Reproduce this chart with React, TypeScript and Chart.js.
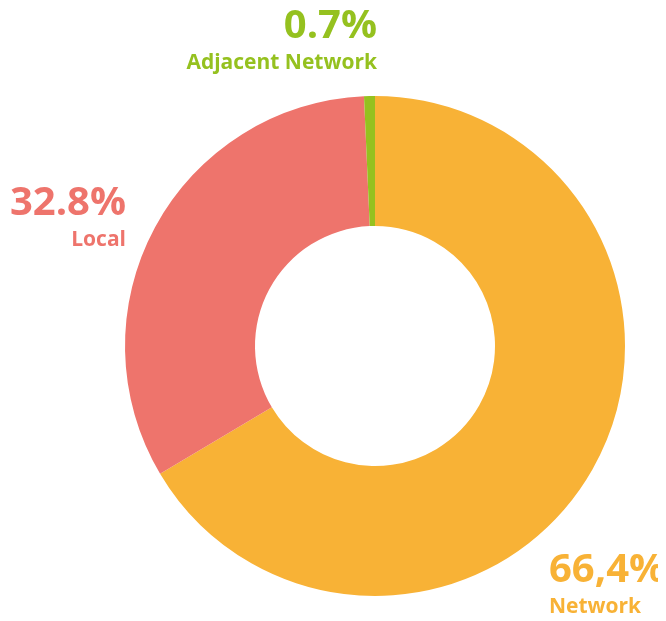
import React, { useEffect, useRef } from "react";
import { Chart, registerables } from "chart.js";

Chart.register(...registerables);

const categories = ["Network", "Local", "Adjacent Network"];
const values = [66.4, 32.8, 0.7];
const valueLabels = ["66,4%", "32.8%", "0.7%"];
const colors = ["#F8B236", "#EE746C", "#95C11F"];

// label anchor positions expressed relative to the doughnut center, in units of its radius
const labelAnchors = [
  { ax: 0.696, ay: 0.942, align: "left" as CanvasTextAlign },
  { ax: -0.996, ay: -0.526, align: "right" as CanvasTextAlign },
  { ax: 0.008, ay: -1.234, align: "right" as CanvasTextAlign },
];

const labelPlugin = {
  id: "sliceLabels",
  afterDraw(chart: any) {
    const meta = chart.getDatasetMeta(0);
    const ctx = chart.ctx as CanvasRenderingContext2D;
    meta.data.forEach((arc: any, i: number) => {
      const { x, y, outerRadius } = arc.getProps(["x", "y", "outerRadius"], true);
      const a = labelAnchors[i];
      const px = x + a.ax * outerRadius;
      const py = y + a.ay * outerRadius;
      ctx.save();
      ctx.fillStyle = colors[i];
      ctx.textAlign = a.align;
      ctx.textBaseline = "alphabetic";
      ctx.font = "bold 40px 'Open Sans'";
      ctx.fillText(valueLabels[i], px, py);
      ctx.font = "bold 21px 'Open Sans'";
      ctx.fillText(categories[i], px, py + 31);
      ctx.restore();
    });
  },
};

export default function App() {
  const ref = useRef<HTMLCanvasElement>(null);
  useEffect(() => {
    if (!ref.current) return;
    const chart = new Chart(ref.current, {
      type: "doughnut",
      data: {
        labels: categories,
        datasets: [
          {
            data: values,
            backgroundColor: colors,
            borderWidth: 0,
            hoverOffset: 0,
          },
        ],
      },
      options: {
        animation: false,
        responsive: true,
        maintainAspectRatio: false,
        cutout: "48%",
        layout: { padding: { left: 125, right: 41, top: 96, bottom: 25 } },
        plugins: {
          legend: { display: false },
          tooltip: { enabled: false },
        },
      },
      plugins: [labelPlugin],
    });
    return () => chart.destroy();
  }, []);
  return (
    <div style={{ width: 666, height: 621, position: "relative", margin: -8 }}>
      <canvas ref={ref} />
    </div>
  );
}
